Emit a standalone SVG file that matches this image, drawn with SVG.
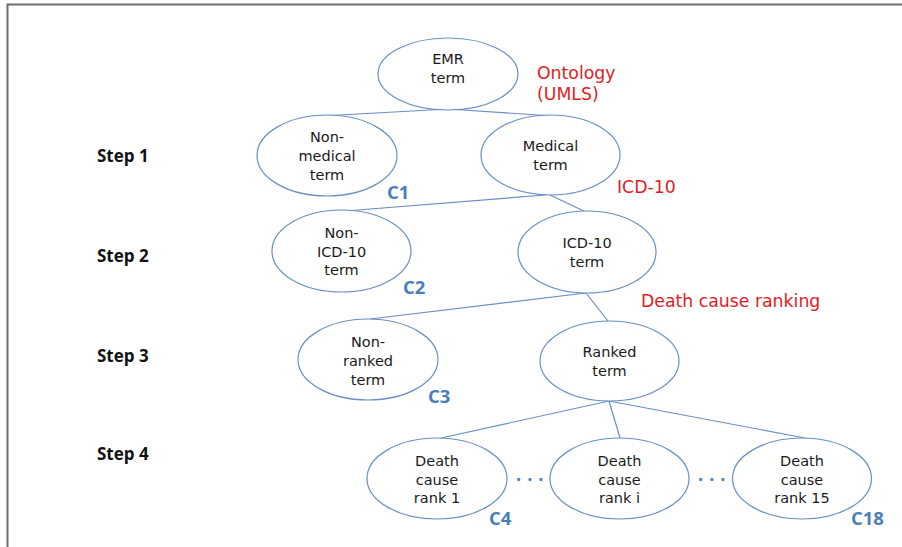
<svg xmlns="http://www.w3.org/2000/svg" width="902" height="547" viewBox="0 0 902 547">
<style>
.node ellipse{fill:#ffffff;stroke:#6a8fc4;stroke-width:1.2}
.node text{font-family:"DejaVu Sans","Open Sans",sans-serif;font-size:14.5px;fill:#1a1a1a;text-anchor:middle}
.conn line{stroke:#6a8fc4;stroke-width:1.2}
.red{font-family:"DejaVu Sans","Open Sans",sans-serif;font-size:17.3px;fill:#e31b23}
.step{font-family:"Open Sans","DejaVu Sans",sans-serif;font-size:17px;font-weight:bold;fill:#111111}
.cl{font-family:"Open Sans","DejaVu Sans",sans-serif;font-size:18.5px;font-weight:bold;fill:#4a7ebb}
.dots{font-family:"Open Sans","DejaVu Sans",sans-serif;font-size:18px;font-weight:bold;fill:#4a7ebb;letter-spacing:6px}
</style>
<rect width="902" height="547" fill="#ffffff"/>
<path d="M7.5 547 V4.5 H902" fill="none" stroke="#6d6d6d" stroke-width="2"/>
<g id="connectors" class="conn">
<line x1="448" y1="109" x2="322" y2="116"/>
<line x1="448" y1="109" x2="553" y2="116"/>
<line x1="545" y1="195" x2="345" y2="211"/>
<line x1="550" y1="195" x2="586" y2="212"/>
<line x1="586" y1="293" x2="370" y2="319"/>
<line x1="586" y1="293" x2="608" y2="321"/>
<line x1="609" y1="401" x2="441" y2="438"/>
<line x1="609" y1="401" x2="620" y2="438"/>
<line x1="609" y1="401" x2="805" y2="438"/>
</g>
<g id="emr" class="node"><ellipse cx="448" cy="74" rx="70" ry="36"/><text x="448" y="64">EMR</text><text x="448" y="83">term</text></g>
<g id="nonmedical" class="node"><ellipse cx="327" cy="155.5" rx="70" ry="40.5"/><text x="327" y="142">Non-</text><text x="327" y="161">medical</text><text x="327" y="179.5">term</text></g>
<g id="medical" class="node"><ellipse cx="550.5" cy="155" rx="69.5" ry="40"/><text x="550.5" y="151">Medical</text><text x="550.5" y="169.5">term</text></g>
<g id="nonicd" class="node"><ellipse cx="341.5" cy="251" rx="69.5" ry="41"/><text x="341.5" y="237.5">Non-</text><text x="341.5" y="256.5">ICD-10</text><text x="341.5" y="275">term</text></g>
<g id="icd" class="node"><ellipse cx="587" cy="252" rx="69" ry="41"/><text x="587" y="247.5">ICD-10</text><text x="587" y="266.5">term</text></g>
<g id="nonranked" class="node"><ellipse cx="368" cy="359.5" rx="70" ry="40.5"/><text x="368" y="347">Non-</text><text x="368" y="366">ranked</text><text x="368" y="384.5">term</text></g>
<g id="ranked" class="node"><ellipse cx="609.5" cy="361" rx="69.5" ry="40"/><text x="609.5" y="357">Ranked</text><text x="609.5" y="376">term</text></g>
<g id="rank1" class="node"><ellipse cx="437" cy="478.5" rx="70" ry="40.5"/><text x="437" y="465.5">Death</text><text x="437" y="484.5">cause</text><text x="437" y="503">rank 1</text></g>
<g id="ranki" class="node"><ellipse cx="619.5" cy="478.5" rx="69.5" ry="40.5"/><text x="619.5" y="465.5">Death</text><text x="619.5" y="484.5">cause</text><text x="619.5" y="503">rank i</text></g>
<g id="rank15" class="node"><ellipse cx="802" cy="478.5" rx="69.5" ry="40.5"/><text x="802" y="465.5">Death</text><text x="802" y="484.5">cause</text><text x="802" y="503">rank 15</text></g>
<g id="labels">
<text class="red" x="537" y="79">Ontology</text>
<text class="red" x="537" y="100">(UMLS)</text>
<text class="red" x="617" y="193">ICD-10</text>
<text class="red" x="641" y="307">Death cause ranking</text>
<text class="step" x="97" y="162">Step 1</text>
<text class="step" x="97" y="262">Step 2</text>
<text class="step" x="97" y="362">Step 3</text>
<text class="step" x="97" y="460">Step 4</text>
<text class="cl" x="387" y="199">C1</text>
<text class="cl" x="403" y="294">C2</text>
<text class="cl" x="428" y="403">C3</text>
<text class="cl" x="489" y="525">C4</text>
<text class="cl" x="851" y="525">C18</text>
<text class="dots" x="516" y="481">...</text>
<text class="dots" x="698" y="481">...</text>
</g>
</svg>
